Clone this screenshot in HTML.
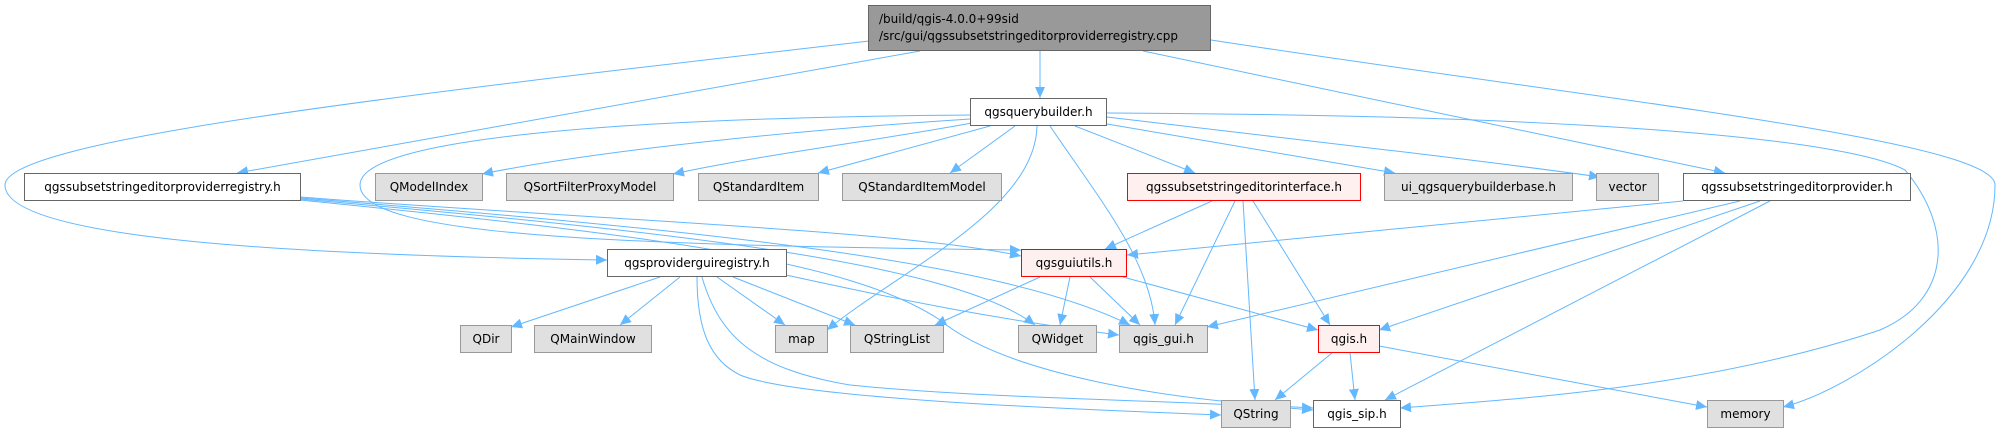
<!DOCTYPE html>
<html><head><meta charset="utf-8"><style>
html,body{margin:0;padding:0;background:#fff;}
svg{display:block;}
text{font-family:"DejaVu Sans","Liberation Sans",sans-serif;font-size:12px;fill:#000;}
.g{fill:#e0e0e0;stroke:#999;stroke-width:1;}
.w{fill:#fff;stroke:#666;stroke-width:1;}
.r{fill:#fff0f0;stroke:#f00;stroke-width:1;}
.e{fill:none;stroke:#63b8ff;stroke-width:1;marker-end:url(#a);}
</style></head><body>
<svg width="2003" height="434" viewBox="0 0 2003 434" xmlns="http://www.w3.org/2000/svg">
<defs><marker id="a" markerUnits="userSpaceOnUse" markerWidth="12" markerHeight="10" refX="11" refY="5" orient="auto"><path d="M0,0 L11,5 L0,10 z" fill="#63b8ff"/></marker></defs>
<g>
<path class="e" d="M1040,51 L1040,98"/>
<path class="e" d="M920,51 L237,173"/>
<path class="e" d="M869,41 C400,95 5,140 5,185 C5,240 300,255 607,260"/>
<path class="e" d="M1143,51 L1725,173"/>
<path class="e" d="M1211,40 C1600,100 1995,140 1995,185 C1995,300 1850,390 1783,407"/>
<path class="e" d="M970,119 C800,130 600,150 482,174"/>
<path class="e" d="M972,123 C880,140 760,155 673,174"/>
<path class="e" d="M990,126 L818,173"/>
<path class="e" d="M1015,126 L950,173"/>
<path class="e" d="M1075,126 L1195,173"/>
<path class="e" d="M1107,124 L1395,173"/>
<path class="e" d="M1107,117 C1300,140 1480,160 1600,177"/>
<path class="e" d="M1050,126 C1100,200 1150,260 1155,325"/>
<path class="e" d="M1037,126 C1035,210 900,270 827,330"/>
<path class="e" d="M970,115 C600,118 360,140 360,185 C360,235 600,245 1021,250"/>
<path class="e" d="M1107,113 C1600,115 1850,140 1905,170 C1955,230 1950,300 1880,330 C1700,390 1500,400 1400,408"/>
<path class="e" d="M300,197 C600,220 900,230 1021,256"/>
<path class="e" d="M300,198 C700,230 1000,260 1130,325"/>
<path class="e" d="M300,199 C650,230 950,260 1035,325"/>
<path class="e" d="M300,200 C650,235 850,260 940,320 C1000,370 1150,400 1313,408"/>
<path class="e" d="M660,277 L511,327"/>
<path class="e" d="M680,277 L620,325"/>
<path class="e" d="M717,277 L785,325"/>
<path class="e" d="M733,277 L855,325"/>
<path class="e" d="M786,275 C900,300 1000,320 1119,335"/>
<path class="e" d="M697,277 C697,330 710,360 740,375 C800,400 1100,410 1221,415"/>
<path class="e" d="M702,277 C720,340 760,370 850,385 C1000,400 1200,400 1313,410"/>
<path class="e" d="M1040,277 L935,325"/>
<path class="e" d="M1070,277 L1060,325"/>
<path class="e" d="M1090,277 L1140,325"/>
<path class="e" d="M1123,277 L1318,330"/>
<path class="e" d="M1212,201 L1105,249"/>
<path class="e" d="M1235,201 L1175,325"/>
<path class="e" d="M1243,201 L1255,400"/>
<path class="e" d="M1253,201 L1330,325"/>
<path class="e" d="M1683,201 L1127,255"/>
<path class="e" d="M1740,201 L1207,327"/>
<path class="e" d="M1760,201 L1379,330"/>
<path class="e" d="M1770,201 L1385,400"/>
<path class="e" d="M1332,353 L1275,400"/>
<path class="e" d="M1350,353 L1355,400"/>
<path class="e" d="M1379,346 L1707,407"/>
</g>
<rect x="868.5" y="5.5" width="342" height="45" style="fill:#999;stroke:#666;"/>
<text x="879" y="23">/build/qgis-4.0.0+99sid</text>
<text x="879" y="40">/src/gui/qgssubsetstringeditorproviderregistry.cpp</text>

<rect class="w" x="970.5" y="98.5" width="136" height="27"/><text x="1038.5" y="116" text-anchor="middle">qgsquerybuilder.h</text>

<rect class="w" x="24.5" y="173.5" width="276" height="27"/><text x="162.5" y="191" text-anchor="middle">qgssubsetstringeditorproviderregistry.h</text>
<rect class="g" x="375.5" y="173.5" width="107" height="27"/><text x="429" y="191" text-anchor="middle">QModelIndex</text>
<rect class="g" x="506.5" y="173.5" width="167" height="27"/><text x="590" y="191" text-anchor="middle">QSortFilterProxyModel</text>
<rect class="g" x="698.5" y="173.5" width="120" height="27"/><text x="758.5" y="191" text-anchor="middle">QStandardItem</text>
<rect class="g" x="842.5" y="173.5" width="159" height="27"/><text x="922" y="191" text-anchor="middle">QStandardItemModel</text>
<rect class="r" x="1127.5" y="173.5" width="233" height="27"/><text x="1244" y="191" text-anchor="middle">qgssubsetstringeditorinterface.h</text>
<rect class="g" x="1384.5" y="173.5" width="188" height="27"/><text x="1478.5" y="191" text-anchor="middle">ui_qgsquerybuilderbase.h</text>
<rect class="g" x="1596.5" y="173.5" width="62" height="27"/><text x="1627.5" y="191" text-anchor="middle">vector</text>
<rect class="w" x="1683.5" y="173.5" width="227" height="27"/><text x="1797" y="191" text-anchor="middle">qgssubsetstringeditorprovider.h</text>

<rect class="w" x="607.5" y="249.5" width="179" height="27"/><text x="697" y="267" text-anchor="middle">qgsproviderguiregistry.h</text>
<rect class="r" x="1021.5" y="249.5" width="105" height="27"/><text x="1074" y="267" text-anchor="middle">qgsguiutils.h</text>

<rect class="g" x="460.5" y="325.5" width="51" height="27"/><text x="486" y="343" text-anchor="middle">QDir</text>
<rect class="g" x="534.5" y="325.5" width="117" height="27"/><text x="593" y="343" text-anchor="middle">QMainWindow</text>
<rect class="g" x="775.5" y="325.5" width="52" height="27"/><text x="801.5" y="343" text-anchor="middle">map</text>
<rect class="g" x="850.5" y="325.5" width="93" height="27"/><text x="897" y="343" text-anchor="middle">QStringList</text>
<rect class="g" x="1018.5" y="325.5" width="78" height="27"/><text x="1057.5" y="343" text-anchor="middle">QWidget</text>
<rect class="g" x="1119.5" y="325.5" width="88" height="27"/><text x="1163.5" y="343" text-anchor="middle">qgis_gui.h</text>
<rect class="r" x="1318.5" y="325.5" width="61" height="27"/><text x="1349" y="343" text-anchor="middle">qgis.h</text>

<rect class="g" x="1221.5" y="400.5" width="69" height="27"/><text x="1256" y="418" text-anchor="middle">QString</text>
<rect class="w" x="1313.5" y="400.5" width="87" height="27"/><text x="1357" y="418" text-anchor="middle">qgis_sip.h</text>
<rect class="g" x="1707.5" y="400.5" width="76" height="27"/><text x="1745.5" y="418" text-anchor="middle">memory</text>
</svg>
</body></html>
